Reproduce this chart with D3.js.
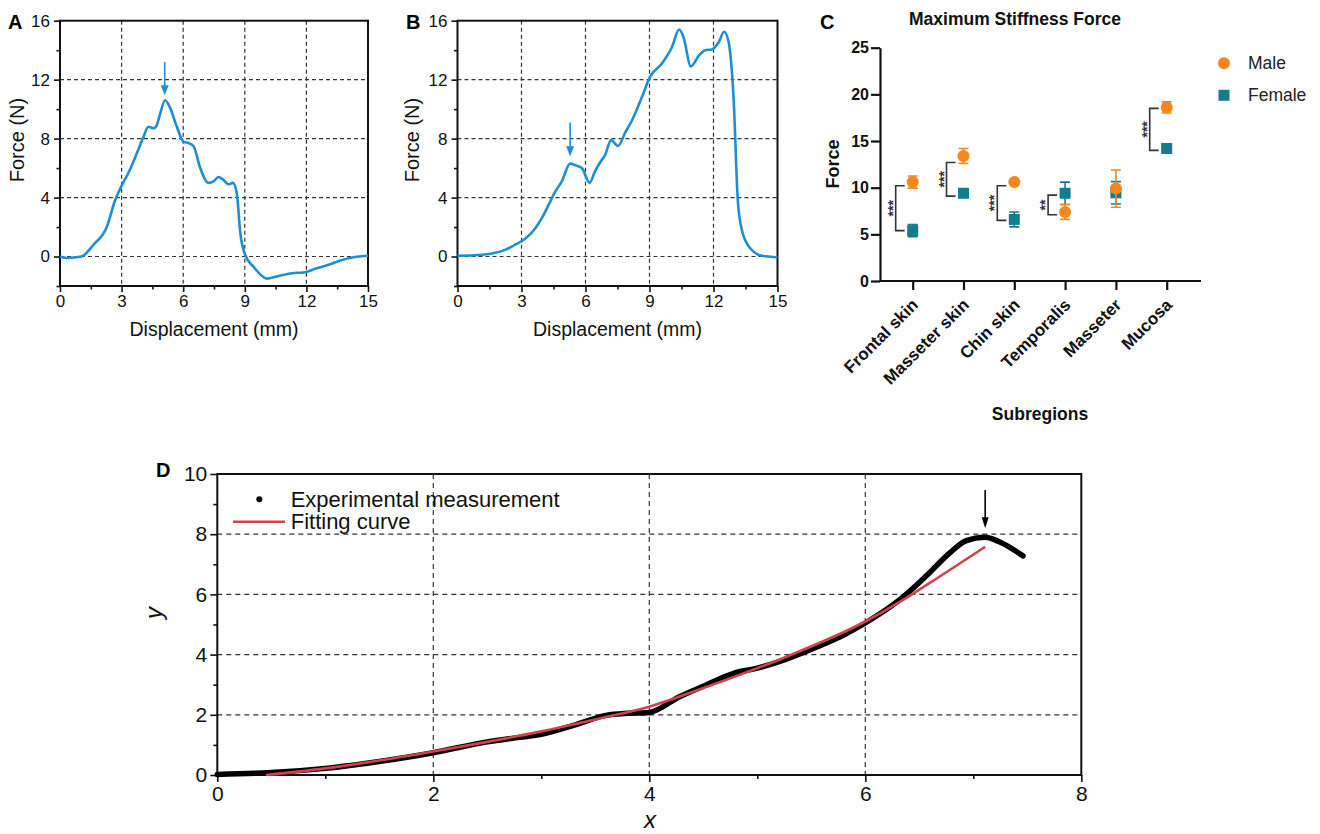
<!DOCTYPE html>
<html lang="en">
<head>
<meta charset="UTF-8">
<title>stiffness-force</title>
<script src="https://cdn.jsdelivr.net/npm/d3@7"></script>
<style>
  body { margin: 0; background: #fff; }
  text { font-family: "Liberation Sans", Arial, sans-serif; }
</style>
</head>
<body>
<div id="container"></div>
<script>
// ---------- data ----------
// panel A: force-displacement curve
const dispA = [0, 0.33, 1.05, 1.63, 2.28, 2.68, 2.93, 3.41, 3.74, 4.06, 4.31, 4.55, 4.71, 4.88, 5.12, 5.36, 5.69, 6.01, 6.26, 6.5,
  6.83, 7.23, 7.48, 7.72, 7.96, 8.21, 8.42, 8.61, 8.78, 9.02, 9.43, 10.08, 10.56, 11.3, 11.86, 12.5, 13.08, 13.65, 14.3, 15];
const forceA = [0, -0.1, 0, 0.8, 2.0, 3.8, 4.6, 5.9, 7.0, 8.1, 8.8, 8.7, 8.9, 9.7, 10.6, 10.1, 8.8, 7.8, 7.7, 7.5,
  6.0, 5.0, 5.1, 5.4, 5.2, 4.9, 5.0, 4.3, 1.6, 0.1, -0.7, -1.5, -1.35, -1.13, -1.08, -0.8, -0.56, -0.27, -0.05, 0.05];
const arrowA = [5.1, 13.2, 10.95]; // x, from, to

// panel B
const dispB = [0, 0.98, 1.6, 2.23, 2.7, 3.17, 3.64, 3.95, 4.27, 4.58, 4.89, 5.28, 5.52, 5.83, 6.19, 6.45, 6.69, 6.92, 7.2, 7.52,
  7.86, 8.2, 8.64, 9.03, 9.58, 10.05, 10.39, 10.59, 10.94, 11.3, 11.61, 11.92, 12.23, 12.5, 12.7, 12.94, 13.14, 13.33, 13.72, 14.27, 15];
const forceB = [0.05, 0.1, 0.2, 0.45, 0.8, 1.2, 1.9, 2.6, 3.5, 4.4, 5.1, 6.3, 6.2, 6.0, 5.0, 5.8, 6.4, 6.9, 7.9, 7.5,
  8.4, 9.3, 10.8, 12.2, 13.1, 14.2, 15.4, 14.9, 12.9, 13.6, 14.0, 14.05, 14.5, 15.25, 14.6, 10.8, 3.8, 1.8, 0.56, 0.05, -0.05];
const arrowB = [5.28, 9.1, 6.8];

const dispTicks = [0, 3, 6, 9, 12, 15];
const dispMinor = [1.5, 4.5, 7.5, 10.5, 13.5];
const forceTicks = [0, 4, 8, 12, 16];
const forceMinor = [-2, 2, 6, 10, 14];

// panel C: maximum stiffness force
const subregions = ["Frontal skin", "Masseter skin", "Chin skin", "Temporalis", "Masseter", "Mucosa"];
const maleMean = [10.6, 13.4, 10.6, 7.4, 9.9, 18.6];
const maleErr = [0.65, 0.8, 0, 0.8, 2.0, 0.6];
const femaleMean = [5.4, 9.4, 6.6, 9.4, 9.45, 14.2];
const femaleErr = [0.65, 0.2, 0.8, 1.2, 1.2, 0.3];
const sigTop = [10.2, 12.7, 10.2, 9.2, null, 18.5];
const sigBottom = [5.4, 9.1, 6.5, 7.1, null, 14.0];
const sigLabel = ["***", "***", "***", "**", "", "***"];
const stiffTicks = [0, 5, 10, 15, 20, 25];

// panel D
const expX = [0, 0.5, 1.0, 1.5, 2.0, 2.5, 2.8, 3.0, 3.3, 3.6, 3.8, 4.0, 4.28, 4.5, 4.78, 5.0, 5.27, 5.55, 5.8, 6.0,
  6.31, 6.56, 6.78, 6.93, 7.11, 7.24, 7.46];
const expY = [0.02, 0.08, 0.22, 0.45, 0.74, 1.1, 1.25, 1.35, 1.65, 1.98, 2.05, 2.08, 2.6, 2.95, 3.38, 3.55, 3.85, 4.25, 4.65, 5.05,
  5.8, 6.6, 7.37, 7.78, 7.9, 7.75, 7.28];
const fitX = [0.45, 1.0, 1.5, 2.0, 2.5, 3.0, 3.54, 4.0, 4.47, 5.27, 6.0, 6.32, 6.7, 7.11];
const fitY = [0, 0.22, 0.48, 0.78, 1.1, 1.45, 1.88, 2.27, 2.85, 3.93, 5.1, 5.75, 6.62, 7.58];
const arrowD = [7.11, 9.47, 8.2];
const dTicksX = [0, 2, 4, 6, 8];
const dMinorX = [1, 3, 5, 7];
const dTicksY = [0, 2, 4, 6, 8, 10];
const dMinorY = [1, 3, 5, 7, 9];

const blue = "#1b8fd2";
const orange = "#f7861b";
const teal = "#137c8e";

const svg = d3.select("#container").append("svg")
  .attr("width", 1320).attr("height", 834);

// origin-style boxed panel with dashed grid
function originPanel(c) {
  const g = svg.append("g");
  const x = d3.scaleLinear().domain(c.xDomain).range([c.left, c.right]);
  const y = d3.scaleLinear().domain(c.yDomain).range([c.bottom, c.top]);

  g.append("g").selectAll("line").data(c.gridX).join("line")
    .attr("x1", d => x(d)).attr("x2", d => x(d))
    .attr("y1", c.top).attr("y2", c.bottom);
  g.append("g").selectAll("line").data(c.gridY).join("line")
    .attr("x1", c.left).attr("x2", c.right)
    .attr("y1", d => y(d)).attr("y2", d => y(d));
  g.selectAll("line").attr("stroke", "#333").attr("stroke-width", 1.2).attr("stroke-dasharray", c.dash);

  const minorX = g.append("g").attr("transform", `translate(0,${c.bottom})`)
    .call(d3.axisBottom(x).tickValues(c.xMinor).tickSize(c.minor).tickFormat("").tickSizeOuter(0));
  const minorY = g.append("g").attr("transform", `translate(${c.left},0)`)
    .call(d3.axisLeft(y).tickValues(c.yMinor).tickSize(c.minor).tickFormat("").tickSizeOuter(0));
  const ax = g.append("g").attr("transform", `translate(0,${c.bottom})`)
    .call(d3.axisBottom(x).tickValues(c.xTicks).tickSize(c.major).tickPadding(c.padX).tickSizeOuter(0));
  const ay = g.append("g").attr("transform", `translate(${c.left},0)`)
    .call(d3.axisLeft(y).tickValues(c.yTicks).tickSize(c.major).tickPadding(c.padY).tickSizeOuter(0));
  [minorX, minorY, ax, ay].forEach(a => {
    a.attr("font-size", c.tickFont);
    a.select(".domain").remove();
    a.selectAll("line").attr("stroke", "#111").attr("stroke-width", 1.6).attr("stroke-dasharray", null);
    a.selectAll("text").attr("font-size", c.tickFont).attr("fill", "#111")
      .attr("font-family", '"Liberation Sans", Arial, sans-serif');
  });

  g.append("rect")
    .attr("x", c.left).attr("y", c.top)
    .attr("width", c.right - c.left).attr("height", c.bottom - c.top)
    .attr("fill", "none").attr("stroke", "#111").attr("stroke-width", 2);
  return { g, x, y };
}

function arrow(g, x, y, a, color, w, len) {
  const px = x(a[0]), y0 = y(a[1]), y1 = y(a[2]);
  g.append("line").attr("x1", px).attr("x2", px).attr("y1", y0).attr("y2", y1 - len + 1)
    .attr("stroke", color).attr("stroke-width", 1.6);
  g.append("path")
    .attr("d", `M${px - w / 2},${y1 - len}L${px + w / 2},${y1 - len}L${px},${y1}Z`)
    .attr("fill", color);
}

function forcePanel(letter, left, right, xs, ys, arr, labelX, letterX) {
  const p = originPanel({
    left, right, top: 20.7, bottom: 286,
    xDomain: [0, 15], yDomain: [-2, 16],
    xTicks: dispTicks, yTicks: forceTicks, xMinor: dispMinor, yMinor: forceMinor,
    gridX: [3, 6, 9, 12], gridY: [0, 4, 8, 12],
    major: 6, minor: 3.5, padX: 3, padY: 4, tickFont: "17px", dash: "4,3"
  });
  const pts = xs.map((d, i) => [d, ys[i]]);
  p.g.append("path").datum(pts)
    .attr("d", d3.line().x(d => p.x(d[0])).y(d => p.y(d[1])).curve(d3.curveMonotoneX))
    .attr("fill", "none").attr("stroke", blue).attr("stroke-width", 2.6);
  arrow(p.g, p.x, p.y, arr, blue, 8, 10);

  p.g.append("text").attr("transform", `translate(${labelX},140) rotate(-90)`)
    .attr("text-anchor", "middle").attr("dy", "0.35em")
    .attr("font-size", "20px").attr("fill", "#111").text("Force (N)");
  p.g.append("text").attr("x", (left + right) / 2).attr("y", 336)
    .attr("text-anchor", "middle").attr("font-size", "19.5px").attr("fill", "#111")
    .text("Displacement (mm)");
  svg.append("text").attr("x", letterX).attr("y", 29)
    .attr("font-size", "20px").attr("font-weight", "bold").text(letter);
}

forcePanel("A", 60, 368, dispA, forceA, arrowA, 17, 8);
forcePanel("B", 457.5, 777.5, dispB, forceB, arrowB, 412, 406);

// ---------- panel C ----------
{
  const left = 880, right = 1201, top = 47.7, bottom = 281;
  const g = svg.append("g");
  const x = d3.scalePoint().domain(subregions).range([912.7, 1166.7]);
  const y = d3.scaleLinear().domain([0, 25]).range([bottom, top]);

  const ay = g.append("g").attr("transform", `translate(${left},0)`)
    .call(d3.axisLeft(y).tickValues(stiffTicks).tickSize(9).tickPadding(2).tickSizeOuter(0));
  const ax = g.append("g").attr("transform", `translate(0,${bottom})`)
    .call(d3.axisBottom(x).tickSize(9).tickSizeOuter(0));
  ax.select(".domain").attr("d", `M${left},0H${right}`);
  [ax, ay].forEach(a => {
    a.selectAll("path, line").attr("stroke", "#111").attr("stroke-width", 2.2);
    a.selectAll("text").attr("font-size", "16px").attr("font-weight", "bold").attr("fill", "#111")
      .attr("font-family", '"Liberation Sans", Arial, sans-serif');
  });
  ax.selectAll("text")
    .attr("text-anchor", "end").attr("y", 0).attr("dy", 0)
    .attr("transform", "translate(6,25) rotate(-45)")
    .attr("font-size", "17px");

  // significance brackets
  subregions.forEach((s, i) => {
    if (sigTop[i] === null) return;
    const bx = x(s) - 17, ex = x(s) - 8;
    g.append("path")
      .attr("d", `M${ex},${y(sigTop[i])}H${bx}V${y(sigBottom[i])}H${ex}`)
      .attr("fill", "none").attr("stroke", "#333").attr("stroke-width", 1.6);
    const my = (y(sigTop[i]) + y(sigBottom[i])) / 2;
    g.append("text").attr("transform", `translate(${x(s) - 15},${my}) rotate(-90)`)
      .attr("text-anchor", "middle")
      .attr("font-size", "14px").attr("font-weight", "bold").attr("fill", "#333").text(sigLabel[i]);
  });

  function errBars(mean, err, color) {
    subregions.forEach((s, i) => {
      if (!err[i]) return;
      const cx = x(s), hi = y(mean[i] + err[i]), lo = y(mean[i] - err[i]);
      g.append("path")
        .attr("d", `M${cx - 5},${hi}H${cx + 5}M${cx},${hi}V${lo}M${cx - 5},${lo}H${cx + 5}`)
        .attr("fill", "none").attr("stroke", color).attr("stroke-width", 1.6);
    });
  }
  errBars(femaleMean, femaleErr, teal);
  g.append("g").selectAll("rect").data(subregions).join("rect")
    .attr("x", d => x(d) - 5.5).attr("y", (d, i) => y(femaleMean[i]) - 5.5)
    .attr("width", 11).attr("height", 11).attr("fill", teal);
  errBars(maleMean, maleErr, orange);
  g.append("g").selectAll("circle").data(subregions).join("circle")
    .attr("cx", d => x(d)).attr("cy", (d, i) => y(maleMean[i]))
    .attr("r", 6).attr("fill", orange);

  g.append("text").attr("x", 1015).attr("y", 25).attr("text-anchor", "middle")
    .attr("font-size", "17.5px").attr("font-weight", "bold").attr("fill", "#111")
    .text("Maximum Stiffness Force");
  g.append("text").attr("transform", "translate(833,164) rotate(-90)")
    .attr("text-anchor", "middle").attr("dy", "0.35em")
    .attr("font-size", "18px").attr("font-weight", "bold").attr("fill", "#111").text("Force");
  g.append("text").attr("x", 1040).attr("y", 420).attr("text-anchor", "middle")
    .attr("font-size", "17.5px").attr("font-weight", "bold").attr("fill", "#111").text("Subregions");

  // legend
  g.append("circle").attr("cx", 1224).attr("cy", 63.3).attr("r", 6).attr("fill", orange);
  g.append("rect").attr("x", 1218.5).attr("y", 89.8).attr("width", 11).attr("height", 11).attr("fill", teal);
  g.append("text").attr("x", 1248).attr("y", 63.3).attr("dy", "0.35em")
    .attr("font-size", "17.5px").attr("fill", "#222").text("Male");
  g.append("text").attr("x", 1248).attr("y", 95.3).attr("dy", "0.35em")
    .attr("font-size", "17.5px").attr("fill", "#222").text("Female");

  svg.append("text").attr("x", 820).attr("y", 29)
    .attr("font-size", "20px").attr("font-weight", "bold").text("C");
}

// ---------- panel D ----------
{
  const p = originPanel({
    left: 217.3, right: 1081.3, top: 474, bottom: 775,
    xDomain: [0, 8], yDomain: [0, 10],
    xTicks: dTicksX, yTicks: dTicksY, xMinor: dMinorX, yMinor: dMinorY,
    gridX: [2, 4, 6], gridY: [2, 4, 6, 8],
    major: 7, minor: 4, padX: 4, padY: 3, tickFont: "21px", dash: "5,4"
  });
  const line = d3.line().x(d => p.x(d[0])).y(d => p.y(d[1])).curve(d3.curveMonotoneX);
  p.g.append("path").datum(expX.map((d, i) => [d, expY[i]]))
    .attr("d", line).attr("fill", "none").attr("stroke", "#000")
    .attr("stroke-width", 5.5).attr("stroke-linecap", "round");
  p.g.append("path").datum(fitX.map((d, i) => [d, fitY[i]]))
    .attr("d", line).attr("fill", "none").attr("stroke", "#d0424d").attr("stroke-width", 2.6);
  arrow(p.g, p.x, p.y, arrowD, "#000", 7, 11);

  // legend
  p.g.append("circle").attr("cx", 259.3).attr("cy", 499.3).attr("r", 3).attr("fill", "#000");
  p.g.append("text").attr("x", 290.7).attr("y", 499.3).attr("dy", "0.35em")
    .attr("font-size", "22px").attr("fill", "#111").text("Experimental measurement");
  p.g.append("line").attr("x1", 233).attr("x2", 285).attr("y1", 521.7).attr("y2", 521.7)
    .attr("stroke", "#d0424d").attr("stroke-width", 2.6);
  p.g.append("text").attr("x", 290.7).attr("y", 521.7).attr("dy", "0.35em")
    .attr("font-size", "22px").attr("fill", "#111").text("Fitting curve");

  p.g.append("text").attr("x", 650).attr("y", 828).attr("text-anchor", "middle")
    .attr("font-size", "24px").attr("font-style", "italic").attr("fill", "#111").text("x");
  p.g.append("text").attr("transform", "translate(155,613) rotate(-90)")
    .attr("text-anchor", "middle").attr("dy", "0.3em")
    .attr("font-size", "24px").attr("font-style", "italic").attr("fill", "#111").text("y");

  svg.append("text").attr("x", 156).attr("y", 477)
    .attr("font-size", "20px").attr("font-weight", "bold").text("D");
}
</script>
</body>
</html>
